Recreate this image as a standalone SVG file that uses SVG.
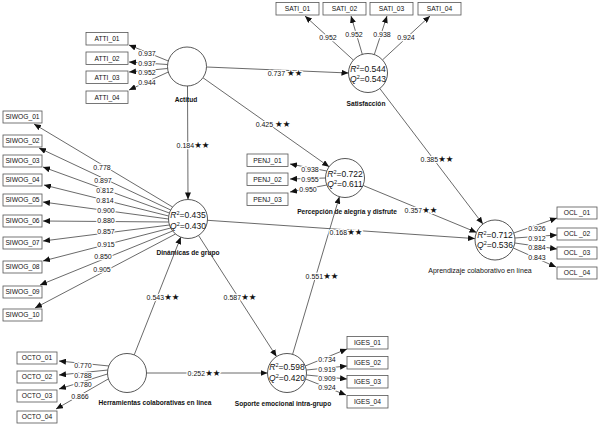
<svg xmlns="http://www.w3.org/2000/svg" width="599" height="429" viewBox="0 0 599 429">
<style>
text{font-family:"Liberation Sans","DejaVu Sans",Arial,sans-serif;fill:#111}
.c{fill:#fff;stroke:#444;stroke-width:0.9}
.b{fill:#fff;stroke:#555;stroke-width:0.8}
.bt{font-size:6.7px;text-anchor:middle}
.nl{font-size:6.6px;font-weight:bold;text-anchor:middle}
.rq{font-size:8.5px;text-anchor:middle}
.l{stroke:#444;stroke-width:0.8;fill:none;marker-end:url(#ah)}
.v{font-size:7px;text-anchor:middle;stroke:#fff;stroke-width:2.5;paint-order:stroke;stroke-linejoin:round}
.s{font-size:8.5px;font-family:"DejaVu Sans",sans-serif}
</style>
<defs>
<marker id="ah" markerUnits="userSpaceOnUse" markerWidth="7" markerHeight="6" refX="7" refY="3" orient="auto">
<path d="M0,0 L7,3 L0,6 z" fill="#111"/>
</marker>
</defs>
<rect width="599" height="429" fill="#fff"/>

<g id="connectors">
<line class="l" x1="168.3" y1="61" x2="129" y2="45"/>
<line class="l" x1="167.6" y1="64.5" x2="129" y2="62"/>
<line class="l" x1="167.6" y1="68.5" x2="129" y2="72"/>
<line class="l" x1="168.3" y1="72" x2="129" y2="90"/>
<line class="l" x1="353.4" y1="60.1" x2="305" y2="16"/>
<line class="l" x1="362.3" y1="54.3" x2="351" y2="16"/>
<line class="l" x1="374.3" y1="54.5" x2="387" y2="16"/>
<line class="l" x1="382.5" y1="59.9" x2="430" y2="16"/>
<line class="l" x1="172.6" y1="207" x2="34" y2="124"/>
<line class="l" x1="170.7" y1="210" x2="39" y2="148"/>
<line class="l" x1="169.4" y1="213" x2="43" y2="167"/>
<line class="l" x1="168.7" y1="216" x2="44" y2="185"/>
<line class="l" x1="168.5" y1="219" x2="43" y2="202"/>
<line class="l" x1="168.7" y1="222" x2="43" y2="221"/>
<line class="l" x1="169.4" y1="225" x2="43" y2="241"/>
<line class="l" x1="170.7" y1="228" x2="43" y2="261"/>
<line class="l" x1="172.6" y1="231" x2="40" y2="285"/>
<line class="l" x1="175.5" y1="234" x2="35" y2="308"/>
<line class="l" x1="326.8" y1="171" x2="290" y2="164"/>
<line class="l" x1="325.5" y1="178" x2="290" y2="179"/>
<line class="l" x1="326.8" y1="185" x2="290" y2="192"/>
<line class="l" x1="513.7" y1="233" x2="557" y2="218"/>
<line class="l" x1="514.9" y1="238" x2="557" y2="235"/>
<line class="l" x1="514.8" y1="243" x2="557" y2="249"/>
<line class="l" x1="513.3" y1="248" x2="556" y2="267"/>
<line class="l" x1="305.2" y1="366" x2="347" y2="349"/>
<line class="l" x1="306.3" y1="370" x2="347" y2="366"/>
<line class="l" x1="306.4" y1="375" x2="347" y2="379"/>
<line class="l" x1="305.6" y1="379" x2="346" y2="395"/>
<line class="l" x1="109.2" y1="366" x2="59" y2="361"/>
<line class="l" x1="107.9" y1="370" x2="59" y2="375"/>
<line class="l" x1="107.5" y1="374" x2="59" y2="389"/>
<line class="l" x1="108.2" y1="379" x2="56" y2="409"/>
<line class="l" x1="206.5" y1="67" x2="348.5" y2="73"/>
<line class="l" x1="202.9" y1="77.7" x2="329.1" y2="166.8"/>
<line class="l" x1="187.5" y1="86" x2="188" y2="199.5"/>
<line class="l" x1="379.8" y1="88.5" x2="482.9" y2="224.1"/>
<line class="l" x1="363" y1="185.4" x2="476.5" y2="232.4"/>
<line class="l" x1="207.5" y1="220.3" x2="475" y2="238.6"/>
<line class="l" x1="134.2" y1="354.9" x2="180.8" y2="237.1"/>
<line class="l" x1="198.5" y1="235.4" x2="276.5" y2="356.6"/>
<line class="l" x1="146.5" y1="373" x2="267.5" y2="373"/>
<line class="l" x1="292.6" y1="354.3" x2="339.4" y2="196.7"/>

<text class="v" x="147" y="55.5">0.937</text>
<text class="v" x="147" y="65.5">0.937</text>
<text class="v" x="147" y="75">0.952</text>
<text class="v" x="147" y="85">0.944</text>
<text class="v" x="328" y="40.2">0.952</text>
<text class="v" x="354" y="36.8">0.952</text>
<text class="v" x="382" y="36.8">0.938</text>
<text class="v" x="406" y="40.2">0.924</text>
<text class="v" x="102" y="169.8">0.778</text>
<text class="v" x="103" y="182.5">0.897</text>
<text class="v" x="105" y="193.2">0.812</text>
<text class="v" x="105" y="202.5">0.814</text>
<text class="v" x="106" y="212.5">0.900</text>
<text class="v" x="106" y="223.2">0.880</text>
<text class="v" x="106" y="234.2">0.857</text>
<text class="v" x="106" y="246.5">0.915</text>
<text class="v" x="103" y="259.2">0.850</text>
<text class="v" x="102" y="271.8">0.905</text>
<text class="v" x="310" y="171.5">0.938</text>
<text class="v" x="310" y="181.5">0.955</text>
<text class="v" x="308" y="191.5">0.950</text>
<text class="v" x="537" y="230.8">0.926</text>
<text class="v" x="537" y="240.8">0.912</text>
<text class="v" x="537" y="250.2">0.884</text>
<text class="v" x="537" y="259.8">0.843</text>
<text class="v" x="327" y="361.5">0.734</text>
<text class="v" x="327" y="371.5">0.919</text>
<text class="v" x="327" y="380.5">0.909</text>
<text class="v" x="327" y="389.5">0.924</text>
<text class="v" x="83" y="367.5">0.770</text>
<text class="v" x="83" y="377.5">0.788</text>
<text class="v" x="83" y="386.5">0.780</text>
<text class="v" x="80" y="398.5">0.866</text>
<text class="v" x="285" y="75.5">0.737 <tspan class="s">★★</tspan></text>
<text class="v" x="273" y="126.5">0.425 <tspan class="s">★★</tspan></text>
<text class="v" x="193" y="147.5">0.184<tspan class="s">★★</tspan></text>
<text class="v" x="437" y="161.5">0.385<tspan class="s">★★</tspan></text>
<text class="v" x="421" y="212.5">0.357<tspan class="s">★★</tspan></text>
<text class="v" x="346" y="234.5">0.168<tspan class="s">★★</tspan></text>
<text class="v" x="163" y="299.5">0.543<tspan class="s">★★</tspan></text>
<text class="v" x="240" y="299.5">0.587<tspan class="s">★★</tspan></text>
<text class="v" x="204" y="375.5">0.252<tspan class="s">★★</tspan></text>
<text class="v" x="322" y="278.5">0.551<tspan class="s">★★</tspan></text>
</g>

<g id="Actitud">
<circle class="c" cx="187" cy="66.5" r="19.5"/>
<text class="nl" x="186" y="101.5">Actitud</text>
</g>
<g id="Satisfaccion">
<circle class="c" cx="368" cy="73" r="19.5"/>
<text class="rq" x="368" y="71.5"><tspan font-style="italic">R</tspan><tspan font-size="5.5" dy="-3">2</tspan><tspan dy="3">=0.544</tspan></text>
<text class="rq" x="368" y="82"><tspan font-style="italic">Q</tspan><tspan font-size="5.5" dy="-3">2</tspan><tspan dy="3">=0.543</tspan></text>
<text class="nl" x="366" y="105.5">Satisfacción</text>
</g>
<g id="Dinamicas">
<circle class="c" cx="188" cy="219" r="19.5"/>
<text class="rq" x="188" y="218"><tspan font-style="italic">R</tspan><tspan font-size="5.5" dy="-3">2</tspan><tspan dy="3">=0.435</tspan></text>
<text class="rq" x="188" y="229"><tspan font-style="italic">Q</tspan><tspan font-size="5.5" dy="-3">2</tspan><tspan dy="3">=0.430</tspan></text>
<text class="nl" x="188" y="254.5">Dinámicas de grupo</text>
</g>
<g id="Percepcion">
<circle class="c" cx="345" cy="178" r="19.5"/>
<text class="rq" x="345" y="176.5"><tspan font-style="italic">R</tspan><tspan font-size="5.5" dy="-3">2</tspan><tspan dy="3">=0.722</tspan></text>
<text class="rq" x="345" y="186.5"><tspan font-style="italic">Q</tspan><tspan font-size="5.5" dy="-3">2</tspan><tspan dy="3">=0.611</tspan></text>
<text class="nl" x="347" y="213.5">Percepción de alegría y disfrute</text>
</g>
<g id="Aprendizaje">
<circle class="c" cx="495" cy="240" r="20"/>
<text class="rq" x="495" y="238"><tspan font-style="italic">R</tspan><tspan font-size="5.5" dy="-3">2</tspan><tspan dy="3">=0.712</tspan></text>
<text class="rq" x="495" y="248"><tspan font-style="italic">Q</tspan><tspan font-size="5.5" dy="-3">2</tspan><tspan dy="3">=0.536</tspan></text>
<text x="480" y="272.5" font-size="7" text-anchor="middle">Aprendizaje colaborativo en línea</text>
</g>
<g id="Herramientas">
<circle class="c" cx="127" cy="373" r="19.5"/>
<text class="nl" x="155" y="404.5">Herramientas colaborativas en línea</text>
</g>
<g id="Soporte">
<circle class="c" cx="287" cy="373" r="19.5"/>
<text class="rq" x="287" y="370"><tspan font-style="italic">R</tspan><tspan font-size="5.5" dy="-3">2</tspan><tspan dy="3">=0.598</tspan></text>
<text class="rq" x="287" y="380.5"><tspan font-style="italic">Q</tspan><tspan font-size="5.5" dy="-3">2</tspan><tspan dy="3">=0.420</tspan></text>
<text class="nl" x="283" y="405.5">Soporte emocional intra-grupo</text>
</g>

<g id="ATTI_01"><rect class="b" x="86" y="32.5" width="42" height="12.5"/><text class="bt" x="107" y="41">ATTI_01</text></g>
<g id="ATTI_02"><rect class="b" x="86" y="52" width="42" height="12.5"/><text class="bt" x="107" y="60.5">ATTI_02</text></g>
<g id="ATTI_03"><rect class="b" x="86" y="71" width="42" height="12.5"/><text class="bt" x="107" y="79.5">ATTI_03</text></g>
<g id="ATTI_04"><rect class="b" x="86" y="91" width="42" height="12.5"/><text class="bt" x="107" y="99.5">ATTI_04</text></g>

<g id="SATI_01"><rect class="b" x="276" y="2.5" width="43" height="12.5"/><text class="bt" x="297.5" y="11">SATI_01</text></g>
<g id="SATI_02"><rect class="b" x="323" y="2.5" width="43" height="12.5"/><text class="bt" x="344.5" y="11">SATI_02</text></g>
<g id="SATI_03"><rect class="b" x="370" y="2.5" width="43" height="12.5"/><text class="bt" x="391.5" y="11">SATI_03</text></g>
<g id="SATI_04"><rect class="b" x="418" y="2.5" width="43" height="12.5"/><text class="bt" x="439.5" y="11">SATI_04</text></g>

<g id="SIWOG_01"><rect class="b" x="3" y="111" width="39" height="12"/><text class="bt" x="22.5" y="119.3">SIWOG_01</text></g>
<g id="SIWOG_02"><rect class="b" x="3" y="135" width="39" height="12"/><text class="bt" x="22.5" y="143.3">SIWOG_02</text></g>
<g id="SIWOG_03"><rect class="b" x="3" y="155" width="39" height="12"/><text class="bt" x="22.5" y="163.3">SIWOG_03</text></g>
<g id="SIWOG_04"><rect class="b" x="3" y="174" width="39" height="12"/><text class="bt" x="22.5" y="182.3">SIWOG_04</text></g>
<g id="SIWOG_05"><rect class="b" x="3" y="194" width="39" height="12"/><text class="bt" x="22.5" y="202.3">SIWOG_05</text></g>
<g id="SIWOG_06"><rect class="b" x="3" y="215" width="39" height="12"/><text class="bt" x="22.5" y="223.3">SIWOG_06</text></g>
<g id="SIWOG_07"><rect class="b" x="3" y="237" width="39" height="12"/><text class="bt" x="22.5" y="245.3">SIWOG_07</text></g>
<g id="SIWOG_08"><rect class="b" x="3" y="261" width="39" height="12"/><text class="bt" x="22.5" y="269.3">SIWOG_08</text></g>
<g id="SIWOG_09"><rect class="b" x="3" y="286" width="39" height="12"/><text class="bt" x="22.5" y="294.3">SIWOG_09</text></g>
<g id="SIWOG_10"><rect class="b" x="3" y="309" width="39" height="12"/><text class="bt" x="22.5" y="317.3">SIWOG_10</text></g>

<g id="PENJ_01"><rect class="b" x="247" y="154" width="41" height="12.5"/><text class="bt" x="267.5" y="162.5">PENJ_01</text></g>
<g id="PENJ_02"><rect class="b" x="247" y="173" width="41" height="12.5"/><text class="bt" x="267.5" y="181.5">PENJ_02</text></g>
<g id="PENJ_03"><rect class="b" x="247" y="193" width="41" height="12.5"/><text class="bt" x="267.5" y="201.5">PENJ_03</text></g>

<g id="OCL_01"><rect class="b" x="557" y="207" width="40" height="12"/><text class="bt" x="577" y="215.3">OCL _01</text></g>
<g id="OCL_02"><rect class="b" x="557" y="228" width="40" height="12"/><text class="bt" x="577" y="236.3">OCL _02</text></g>
<g id="OCL_03"><rect class="b" x="557" y="247" width="40" height="12"/><text class="bt" x="577" y="255.3">OCL _03</text></g>
<g id="OCL_04"><rect class="b" x="557" y="267" width="40" height="12"/><text class="bt" x="577" y="275.3">OCL _04</text></g>

<g id="IGES_01"><rect class="b" x="347" y="336.5" width="41" height="12.5"/><text class="bt" x="367.5" y="345">IGES_01</text></g>
<g id="IGES_02"><rect class="b" x="347" y="356.5" width="41" height="12.5"/><text class="bt" x="367.5" y="365">IGES_02</text></g>
<g id="IGES_03"><rect class="b" x="347" y="375.5" width="41" height="12.5"/><text class="bt" x="367.5" y="384">IGES_03</text></g>
<g id="IGES_04"><rect class="b" x="347" y="395.5" width="41" height="12.5"/><text class="bt" x="367.5" y="404">IGES_04</text></g>

<g id="OCTO_01"><rect class="b" x="17" y="352" width="40" height="12"/><text class="bt" x="37" y="360.3">OCTO_01</text></g>
<g id="OCTO_02"><rect class="b" x="17" y="371" width="40" height="12"/><text class="bt" x="37" y="379.3">OCTO_02</text></g>
<g id="OCTO_03"><rect class="b" x="17" y="390" width="40" height="12"/><text class="bt" x="37" y="398.3">OCTO_03</text></g>
<g id="OCTO_04"><rect class="b" x="17" y="411" width="40" height="12"/><text class="bt" x="37" y="419.3">OCTO_04</text></g>
</svg>
